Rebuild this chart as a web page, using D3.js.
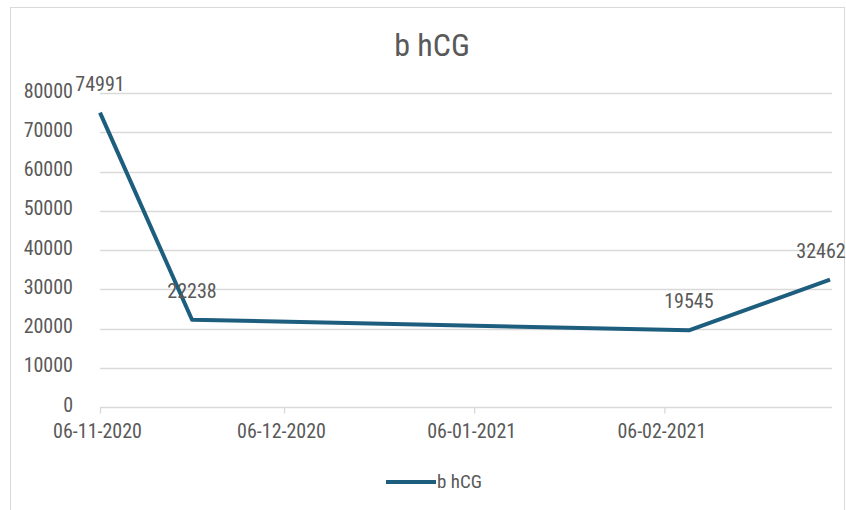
<!DOCTYPE html>
<html><head><meta charset="utf-8">
<script src="https://cdn.jsdelivr.net/npm/d3@7"></script>
<style>
html,body{margin:0;padding:0;background:#fff;}
svg{display:block;}
text{font-family:"Liberation Sans Narrow","Arial Narrow","Roboto Condensed",sans-serif;fill:#595959;}
</style></head>
<body>
<svg id="chart" width="846" height="510"></svg>
<script>
const title = "b hCG";
const seriesName = "b hCG";
const dates = ["06-11-2020", "21-11-2020", "10-02-2021", "05-03-2021"];
const values = [74991, 22238, 19545, 32462];
const xTickLabels = ["06-11-2020", "06-12-2020", "06-01-2021", "06-02-2021"];
const yTicks = [0, 10000, 20000, 30000, 40000, 50000, 60000, 70000, 80000];

const parse = d3.timeParse("%d-%m-%Y");
const fmt = d3.timeFormat("%d-%m-%Y");
const data = dates.map((d, i) => ({date: parse(d), value: values[i]}));

const W = 846, H = 510;
const svg = d3.select("#chart");
const lineColor = "#1d5e7e";
const gridColor = "#d9d9d9";

// chart border
svg.append("rect").attr("x", 10.5).attr("y", 7.5).attr("width", W - 12).attr("height", H - 6)
  .attr("fill", "#fff").attr("stroke", "#d9d9d9").attr("stroke-width", 1);

const x = d3.scaleTime().domain(d3.extent(data, d => d.date)).range([100, 830]);
const y = d3.scaleLinear().domain([0, 80000]).range([407, 93]);

// title
svg.append("text").attr("x", 432).attr("y", 56).attr("text-anchor", "middle")
  .style("font-size", "32px").text(title);

// gridlines
svg.append("g").selectAll("line").data(yTicks.filter(v => v > 0)).join("line")
  .attr("x1", 100).attr("x2", 832)
  .attr("y1", d => Math.round(y(d)) + 0.5).attr("y2", d => Math.round(y(d)) + 0.5)
  .attr("stroke", gridColor).attr("stroke-width", 1.3);

// y axis labels
const yAxis = d3.axisLeft(y).tickValues(yTicks).tickSize(0).tickPadding(0).tickFormat(d3.format("d"));
const gy = svg.append("g").attr("transform", "translate(73,0)").call(yAxis);
gy.select(".domain").remove();
gy.selectAll("text").style("font-size", "20px").attr("fill", "#595959")
  .attr("font-family", null).attr("dy", "0.2em");

// x axis
const xTickDates = xTickLabels.map(parse);
const xAxis = d3.axisBottom(x).tickValues(xTickDates).tickSize(6).tickPadding(10).tickFormat(fmt);
const gx = svg.append("g").attr("transform", "translate(0,407.5)").call(xAxis);
gx.select(".domain").attr("d", "M100,0H832").attr("stroke", gridColor).attr("stroke-width", 1.3);
gx.selectAll(".tick line").attr("stroke", gridColor).attr("stroke-width", 1.3);
gx.selectAll("text").style("font-size", "20px").attr("fill", "#595959").attr("font-family", null)
  .attr("dx", "-3");

// line
const line = d3.line().x(d => x(d.date)).y(d => y(d.value));
svg.append("path").datum(data).attr("d", line).attr("fill", "none")
  .attr("stroke", lineColor).attr("stroke-width", 4).attr("stroke-linejoin", "round");

// data labels
svg.append("g").selectAll("text").data(data).join("text")
  .attr("x", d => Math.min(x(d.date), 821))
  .attr("y", d => y(d.value) - 22)
  .attr("text-anchor", "middle").style("font-size", "20px")
  .text(d => d.value);

// legend
const lg = svg.append("g");
lg.append("line").attr("x1", 386).attr("x2", 436).attr("y1", 482).attr("y2", 482)
  .attr("stroke", lineColor).attr("stroke-width", 4);
lg.append("text").attr("x", 437).attr("y", 488).style("font-size", "19px").text(seriesName);
</script>
</body></html>
